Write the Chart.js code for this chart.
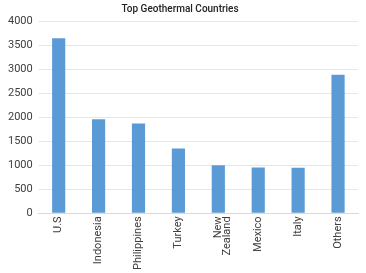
<!DOCTYPE html>
<html>
<head>
<meta charset="utf-8">
<script src="https://cdn.jsdelivr.net/npm/chart.js@4"></script>
<style>
  html, body { margin:0; padding:0; background:#fff; }
  #wrap { width:366px; height:273px; }
</style>
</head>
<body>
<div id="wrap"><canvas id="geoChart"></canvas></div>
<script>
// data
const countries = ['U.S', 'Indonesia', 'Philippines', 'Turkey', ['New', 'Zealand'], 'Mexico', 'Italy', 'Others'];
const capacityMW = [3640, 1955, 1870, 1350, 1000, 955, 950, 2880];
const yTicks = [0, 500, 1000, 1500, 2000, 2500, 3000, 3500, 4000];

const ctx = document.getElementById('geoChart').getContext('2d');
new Chart(ctx, {
    type: 'bar',
    data: {
        labels: countries,
        datasets: [{
            data: capacityMW,
            backgroundColor: '#5b9bd5',
            borderWidth: 0,
            barPercentage: 0.33,
            categoryPercentage: 1
        }]
    },
    options: {
        responsive: true,
        maintainAspectRatio: false,
        animation: false,
        layout: { padding: { left: 2, right: 8, top: 1, bottom: 0 } },
        plugins: {
            legend: { display: false },
            tooltip: { enabled: false },
            title: {
                display: true,
                text: 'Top Geothermal Countries',
                color: '#222',
                font: { family: 'Roboto', size: 10, weight: '500' },
                padding: { top: 2, bottom: 6 }
            }
        },
        scales: {
            x: {
                grid: { display: false, drawTicks: false },
                border: { color: '#d9d9d9', width: 1 },
                ticks: {
                    color: '#404040',
                    font: { family: 'Roboto', size: 11, lineHeight: 0.85 },
                    minRotation: 90,
                    maxRotation: 90,
                    autoSkip: false,
                    padding: 3
                }
            },
            y: {
                min: yTicks[0],
                max: yTicks[yTicks.length - 1],
                afterBuildTicks: axis => { axis.ticks = yTicks.map(v => ({ value: v })); },
                grid: { color: '#e6e6e6', drawTicks: false },
                border: { display: false },
                ticks: {
                    color: '#404040',
                    font: { family: 'Roboto', size: 11 },
                    padding: 6,
                    callback: v => String(v)
                }
            }
        }
    }
});
</script>
</body>
</html>
